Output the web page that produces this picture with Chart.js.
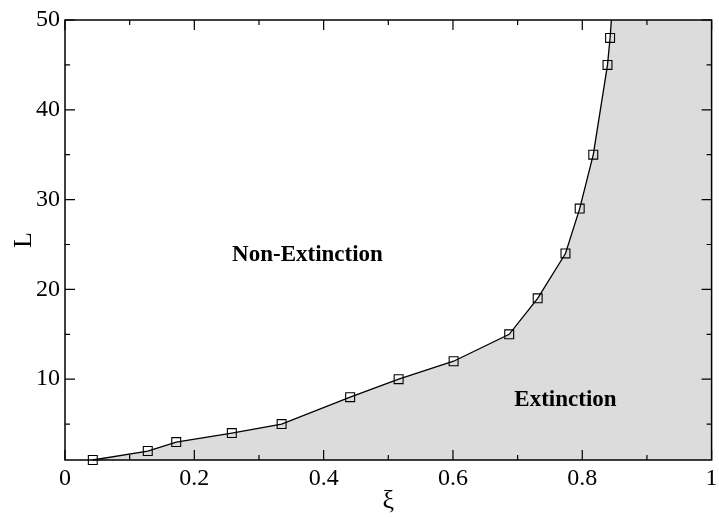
<!DOCTYPE html>
<html>
<head>
<meta charset="utf-8">
<script src="https://cdn.jsdelivr.net/npm/chart.js@4"></script>
<style>
  html, body { margin: 0; padding: 0; background: #fff; }
  #wrap { width: 719px; height: 517px; }
</style>
</head>
<body>
<div id="wrap"><canvas id="chart" width="719" height="517"></canvas></div>
<script>
// Measured points on the extinction boundary
const xi = [0.043, 0.128, 0.172, 0.258, 0.335, 0.441, 0.516, 0.601, 0.687, 0.731, 0.774, 0.796, 0.817, 0.839, 0.843];
const L = [1, 2, 3, 4, 5, 8, 10, 12, 15, 19, 24, 29, 35, 45, 48];

// where the curve leaves the top of the frame (no marker)
const tailXi = 0.845;

// axes
const xMin = 0, xMax = 1;
const yMin = 1, yMax = 50;
const xMajor = [0, 0.2, 0.4, 0.6, 0.8, 1];
const xMinor = [0.1, 0.3, 0.5, 0.7, 0.9];
const yMajor = [10, 20, 30, 40, 50];
const yMinor = [5, 15, 25, 35, 45];

// region labels
const regions = [
  { text: 'Non-Extinction', x: 0.375, y: 23.8 },
  { text: 'Extinction', x: 0.774, y: 7.7 }
];

const serif = '"Liberation Serif", "DejaVu Serif", serif';

const curve = xi.map((x, i) => ({ x: x, y: L[i] }));
curve.push({ x: tailXi, y: yMax });

// fill polygon: curve, then along the top edge to the right border
const fillPts = curve.concat([{ x: xMax, y: yMax }]);

// Frame, inward ticks and region labels
const framePlugin = {
  id: 'frame',
  afterDraw(chart) {
    const { ctx, chartArea: a } = chart;
    const xs = chart.scales.x, ys = chart.scales.y;
    ctx.save();
    ctx.strokeStyle = '#000';
    ctx.lineWidth = 1.5;
    ctx.strokeRect(a.left, a.top, a.right - a.left, a.bottom - a.top);

    ctx.lineWidth = 1.2;
    ctx.beginPath();
    const xTick = (v, len) => {
      const px = xs.getPixelForValue(v);
      ctx.moveTo(px, a.bottom); ctx.lineTo(px, a.bottom - len);
      ctx.moveTo(px, a.top); ctx.lineTo(px, a.top + len);
    };
    const yTick = (v, len) => {
      const py = ys.getPixelForValue(v);
      ctx.moveTo(a.left, py); ctx.lineTo(a.left + len, py);
      ctx.moveTo(a.right, py); ctx.lineTo(a.right - len, py);
    };
    xMajor.forEach(v => xTick(v, 10));
    xMinor.forEach(v => xTick(v, 5));
    yMajor.forEach(v => yTick(v, 10));
    yMinor.forEach(v => yTick(v, 5));
    ctx.stroke();

    ctx.fillStyle = '#000';
    ctx.font = 'bold 23px ' + serif;
    ctx.textAlign = 'center';
    ctx.textBaseline = 'middle';
    regions.forEach(r => {
      ctx.fillText(r.text, xs.getPixelForValue(r.x), ys.getPixelForValue(r.y));
    });
    ctx.restore();
  }
};

new Chart(document.getElementById('chart'), {
  type: 'scatter',
  data: {
    datasets: [
      {
        // shaded extinction region (drawn underneath)
        data: fillPts,
        order: 2,
        showLine: true,
        fill: 'start',
        backgroundColor: '#dcdcdc',
        borderWidth: 0,
        borderColor: 'rgba(0,0,0,0)',
        pointRadius: 0
      },
      {
        // boundary curve with square markers
        data: curve,
        order: 1,
        clip: false,
        showLine: true,
        fill: false,
        borderColor: '#000',
        borderWidth: 1.3,
        pointStyle: 'rect',
        pointRadius: ctx => ctx.dataIndex < xi.length ? 6.3 : 0,
        pointBorderColor: '#000',
        pointBorderWidth: 1.1,
        pointBackgroundColor: 'rgba(0,0,0,0)'
      }
    ]
  },
  options: {
    responsive: false,
    animation: false,
    layout: { padding: { top: 20, right: 3, left: 0, bottom: 0 } },
    plugins: {
      legend: { display: false },
      tooltip: { enabled: false }
    },
    scales: {
      x: {
        type: 'linear',
        min: xMin,
        max: xMax,
        afterBuildTicks: s => { s.ticks = xMajor.map(v => ({ value: v })); },
        afterFit: s => { s.height = 57; s.paddingLeft = 0; s.paddingRight = 0; },
        grid: { display: false, drawTicks: false },
        border: { display: false },
        ticks: {
          padding: 4,
          color: '#000',
          font: { family: serif, size: 24 },
          maxRotation: 0,
          autoSkip: false,
          callback: v => String(v)
        },
        title: {
          display: true,
          text: 'ξ',
          color: '#000',
          font: { family: serif, size: 26 },
          padding: { top: 0, bottom: 0 }
        }
      },
      y: {
        type: 'linear',
        min: yMin,
        max: yMax,
        afterBuildTicks: s => { s.ticks = yMajor.map(v => ({ value: v })); },
        afterFit: s => { s.width = 65; s.paddingTop = 0; s.paddingBottom = 0; },
        grid: { display: false, drawTicks: false },
        border: { display: false },
        ticks: {
          padding: 5,
          color: '#000',
          font: { family: serif, size: 24 }
        },
        title: {
          display: true,
          text: 'L',
          color: '#000',
          font: { family: serif, size: 26 },
          padding: { top: 9, bottom: 0 }
        }
      }
    }
  },
  plugins: [framePlugin]
});
</script>
</body>
</html>
